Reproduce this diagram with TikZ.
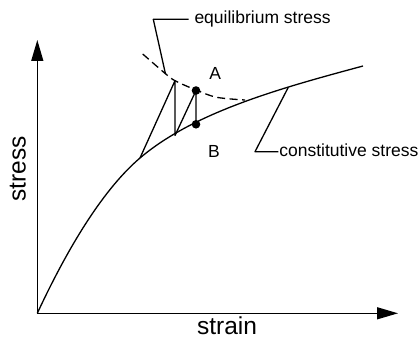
\documentclass[tikz,border=0pt]{standalone}
\usepackage{fontspec}
\setmainfont{Liberation Sans}
\usetikzlibrary{arrows.meta}
\begin{document}
\begin{tikzpicture}[x=1pt,y=-1pt,
  line/.style={line width=1.3pt, line join=round},
  axis/.style={line width=1.3pt, -{Triangle[length=21pt,width=12pt]}},
  lbl/.style={inner sep=0pt, outer sep=0pt, font=\fontsize{17.5}{20}\selectfont},
  axlbl/.style={inner sep=0pt, outer sep=0pt, font=\fontsize{24.5}{28}\selectfont},
  dot/.style={circle, fill=black, inner sep=0pt, minimum size=8.6pt}]
\useasboundingbox (0,0) rectangle (418,339);
% axes
\coordinate (O) at (37.3,313.3);
\coordinate (ytip) at (37.3,40);
\coordinate (xtip) at (398,313.3);
\draw[axis] (O) -- (ytip);
\draw[axis] (O) -- (xtip);
\node[axlbl, anchor=base] (strainlbl) at (227,334.5) {strain};
\node[axlbl, anchor=base, rotate=90] (stresslbl) at (25.5,169) {stress};
% constitutive curve
\coordinate (k) at (140,158);
\coordinate (cend) at (363,66);
\draw[line] (O) .. controls (70,243) and (105,187.8) .. (k)
            .. controls (195,111.3) and (283,87.6) .. (cend);
% equilibrium (dashed) curve
\draw[line, dash pattern=on 8pt off 4.5pt] plot[smooth, tension=0.55] coordinates {(142.7,54) (165,73.3) (175,80.7) (196,90) (216.7,97.3) (245,100)};
% iteration lines
\coordinate (p2) at (175,80.7);
\coordinate (p3) at (175,135.5);
\node[dot] (A) at (196,90.5) {};
\node[dot] (B) at (196,124.3) {};
\draw[line] (k) -- (p2) -- (p3) -- (A.center) -- (B.center);
\node[lbl, anchor=base] (Albl) at (215.3,80) {A};
\node[lbl, anchor=base] (Blbl) at (214,157.3) {B};
% leaders
\coordinate (e1) at (165.5,74);
\coordinate (e2) at (153.3,19.3);
\node[lbl, anchor=base west] (eq) at (194.5,24) {equilibrium stress};
\draw[line] (e1) -- (e2) -- ([xshift=-6pt]eq.west |- e2);
\coordinate (c1) at (288.3,87.3);
\coordinate (c2) at (255,151.7);
\node[lbl, anchor=base west] (cs) at (279.3,156.5) {constitutive stress};
\draw[line] (c1) -- (c2) -- ([xshift=-1pt]cs.west |- c2);
\end{tikzpicture}
\end{document}
